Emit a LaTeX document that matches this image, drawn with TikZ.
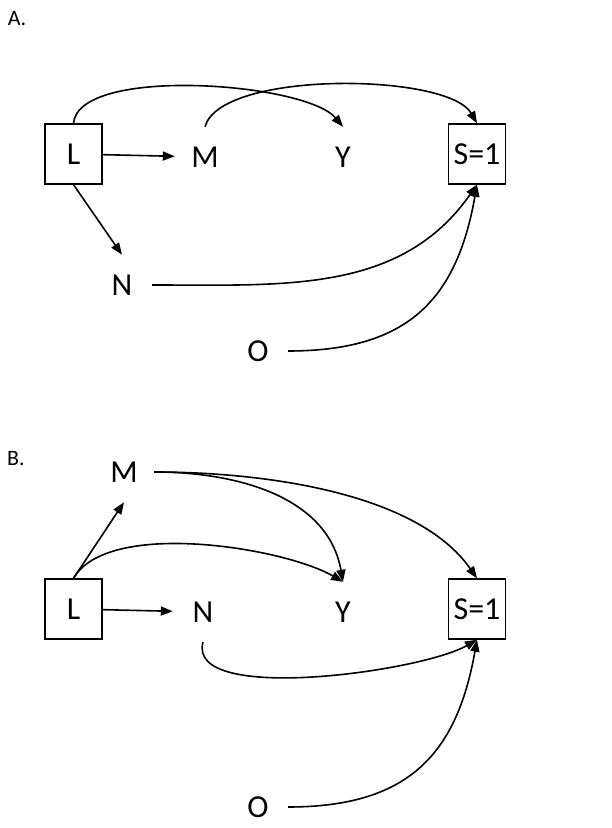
\documentclass[tikz,border=0pt]{standalone}
\usepackage{fontspec}
\setmainfont{Carlito}
\usetikzlibrary{arrows.meta}

\begin{document}
\begin{tikzpicture}[x=1pt,y=1pt,
  box/.style={draw, line width=1.4pt, minimum width=57pt, minimum height=60pt, inner sep=0pt, font=\fontsize{32}{36}\selectfont},
  var/.style={circle, minimum size=60pt, inner sep=0pt, font=\fontsize{32}{36}\selectfont},
  panel/.style={font=\fontsize{22}{26}\selectfont},
  arr/.style={line width=1.6pt, -{Triangle[length=12pt,width=9pt]}}]
  \useasboundingbox (0,0) rectangle (611,828);

  % panel A
  \node[panel] (labA) at (17,809) {A.};
  \node[box] (La) at (73.5,674) {L};
  \node[var] (Ma) at (205,671) {M};
  \node[var] (Ya) at (343,671) {Y};
  \node[box] (Sa) at (477,674) {S=1};
  \node[var] (Na) at (122,543) {N};
  \node[var] (Oa) at (258,477) {O};

  \draw[arr] (La) -- (Ma);
  \draw[arr] (La.south) -- (Na.north);
  \draw[arr] (La.north) to[out=85, in=130, looseness=0.55] (Ya.north);
  \draw[arr] (Ma.north) to[out=75, in=120, looseness=0.55] (Sa.north);
  \draw[arr] (Na.east) to[out=0, in=235] (Sa.south);
  \draw[arr] (Oa.east) to[out=0, in=260, looseness=1.2] (Sa.south);

  % panel B
  \node[panel] (labB) at (16,369) {B.};
  \node[var] (Mb) at (124,356) {M};
  \node[box] (Lb) at (73.5,219) {L};
  \node[var] (Nb) at (203,216) {N};
  \node[var] (Yb) at (343,216) {Y};
  \node[box] (Sb) at (477,219) {S=1};
  \node[var] (Ob) at (258,21) {O};

  \draw[arr] (Lb) -- (Nb);
  \draw[arr] (Lb.north) -- (Mb.south);
  \draw[arr] (Lb.north) to[out=60, in=150, looseness=0.65] (Yb.north);
  \draw[arr] (Mb.east) to[out=0, in=100] (Yb.north);
  \draw[arr] (Mb.east) to[out=0, in=125, looseness=0.8] (Sb.north);
  \draw[arr] (Nb.south) to[out=-105, in=210, looseness=0.6] (Sb.south);
  \draw[arr] (Ob.east) to[out=0, in=260, looseness=1.2] (Sb.south);
\end{tikzpicture}
\end{document}
